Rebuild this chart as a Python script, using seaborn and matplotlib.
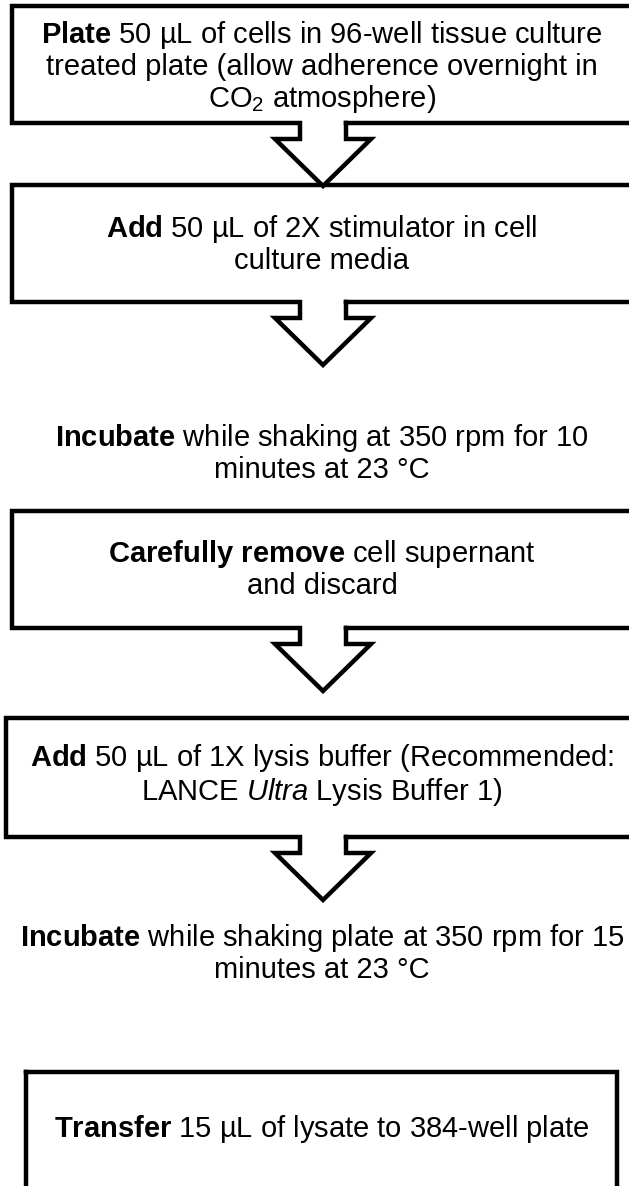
import numpy as np
import matplotlib
matplotlib.use("Agg")
import matplotlib.pyplot as plt
import seaborn as sns

sns.set_theme(style="white")
plt.rcParams['font.family'] = ['Liberation Sans', 'DejaVu Sans']
plt.rcParams['mathtext.fontset'] = 'custom'
plt.rcParams['mathtext.rm'] = 'Liberation Sans'
plt.rcParams['mathtext.bf'] = 'Liberation Sans:bold'
plt.rcParams['mathtext.it'] = 'Liberation Sans:italic'
plt.rcParams['mathtext.default'] = 'rm'

# protocol steps (bold verb via mathtext)
steps = [
    r"$\mathbf{Plate}$ 50 µL of cells in 96-well tissue culture" "\n"
    "treated plate (allow adherence overnight in" "\n"
    r"CO$_2$ atmosphere)",
    r"$\mathbf{Add}$ 50 µL of 2X stimulator in cell" "\n"
    "culture media",
    r"$\mathbf{Incubate}$ while shaking at 350 rpm for 10" "\n"
    "minutes at 23 °C",
    r"$\mathbf{Carefully\ remove}$ cell supernant" "\n"
    "and discard",
    r"$\mathbf{Add}$ 50 µL of 1X lysis buffer (Recommended:" "\n"
    r"LANCE $\mathit{Ultra}$ Lysis Buffer 1)",
    r"$\mathbf{Incubate}$ while shaking plate at 350 rpm for 15" "\n"
    "minutes at 23 °C",
    r"$\mathbf{Transfer}$ 15 µL of lysate to 384-well plate",
]
boxed = [True, True, False, True, True, False, True]
arrow_after = [True, True, False, True, True, False, False]

# layout in pixels (y down)
box_top = [6, 185, None, 511, 718, None, 1072]
box_bot = [123, 302, None, 628, 837, None, 1200]
box_left = [12, 12, None, 12, 6, None, 26]
box_right = [700, 700, None, 700, 700, None, 617]
text_y = [67, 244, 453, 569, 775, 953, 1129]

W, H = 629, 1186
cx = 323
shaft_half, head_half = 23, 48
shaft_len, head_len = 16, 47
lw = 3.2

fig = plt.figure(figsize=(W / 100, H / 100), dpi=100)
ax = fig.add_axes([0, 0, 1, 1])
ax.set_xlim(0, W)
ax.set_ylim(H, 0)
ax.axis('off')

for i, txt in enumerate(steps):
    if boxed[i]:
        t, b, l, r = box_top[i], box_bot[i], box_left[i], box_right[i]
        if arrow_after[i]:
            ys = b + shaft_len
            xs = [cx + shaft_half, r, r, l, l, cx - shaft_half,
                  cx - shaft_half, cx - head_half, cx, cx + head_half,
                  cx + shaft_half, cx + shaft_half]
            yy = [b, b, t, t, b, b, ys, ys, ys + head_len, ys, ys, b]
        else:
            xs = [l, r, r, l, l]
            yy = [t, t, b, b, t]
        ax.plot(xs, yy, color='black', lw=lw, solid_joinstyle='miter',
                solid_capstyle='projecting')
    ax.text(cx - 1, text_y[i], txt, ha='center', va='center',
            fontsize=21, color='black', linespacing=1.08,
            multialignment='center')

fig.savefig("out.png", dpi=100, facecolor='white')
